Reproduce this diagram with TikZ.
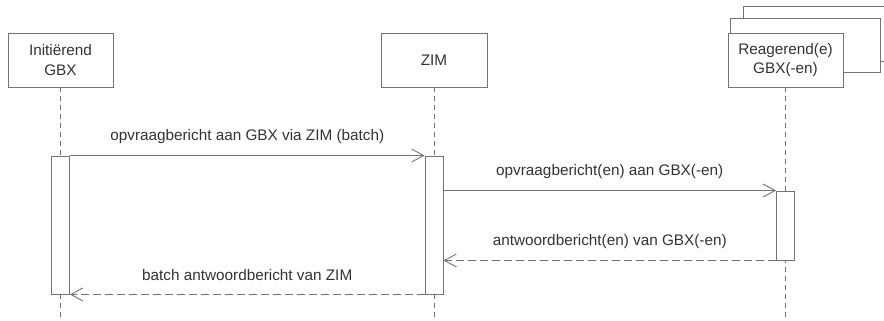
\documentclass[tikz,border=0pt]{standalone}
\usepackage{fontspec}
\setmainfont{Liberation Sans}
\usetikzlibrary{arrows.meta}

\tikzset{
  lijn/.style={draw=black!55, line width=0.9pt},
  deelnemer/.style={lijn, fill=white, rectangle, minimum height=54pt, align=center,
    inner sep=0pt, text=black!80, font=\fontsize{15.3}{19.5}\selectfont},
  levenslijn/.style={lijn, dash pattern=on 5pt off 4pt},
  activatie/.style={lijn, fill=white, rectangle, minimum width=18pt, inner sep=0pt},
  bericht/.style={lijn, -{Straight Barb[length=12pt,width=13pt]}},
  antwoord/.style={bericht, dash pattern=on 8pt off 4pt},
  berichttekst/.style={midway, yshift=19pt, inner sep=0pt, text=black!80,
    font=\fontsize{15.3}{19.5}\selectfont}
}

\begin{document}
\begin{tikzpicture}[x=1pt,y=-1pt]

\useasboundingbox (0,0) rectangle (884,321);
\clip (0,0) rectangle (884,321);
\coordinate (onder) at (0,321);

% 参与者
\node[deelnemer, minimum width=105pt] (gbxA) at (60.5,60) {Initiërend\\GBX};
\node[deelnemer, minimum width=106pt] (zim) at (434,60) {ZIM};
\draw[lijn, fill=white] (743,6) rectangle (893,61);
\draw[lijn, fill=white] (730,18) rectangle (880,72);
\node[deelnemer, minimum width=115pt] (gbxR) at (785.5,60) {Reagerend(e)\\GBX(-en)};

% 生命线
\foreach \p in {gbxA,zim,gbxR}{
  \draw[levenslijn] (\p.south) -- (\p.south |- onder);
}

% 激活框
\node[activatie, minimum height=138pt] (actA) at (gbxA.south |- 0,225) {};
\node[activatie, minimum height=138pt] (actZ) at (zim.south |- 0,225) {};
\node[activatie, minimum height=69pt] (actR) at (gbxR.south |- 0,225.5) {};

% 消息
\draw[bericht] (actA.north east) -- node[berichttekst] {opvraagbericht aan GBX via ZIM (batch)} (actZ.north west);
\draw[bericht] (actZ.east |- actR.north) -- node[berichttekst] {opvraagbericht(en) aan GBX(-en)} (actR.north west);
\draw[antwoord] (actR.south west) -- node[berichttekst] {antwoordbericht(en) van GBX(-en)} (actZ.east |- actR.south);
\draw[antwoord] (actZ.south west) -- node[berichttekst] {batch antwoordbericht van ZIM} (actA.south east);

\end{tikzpicture}
\end{document}
